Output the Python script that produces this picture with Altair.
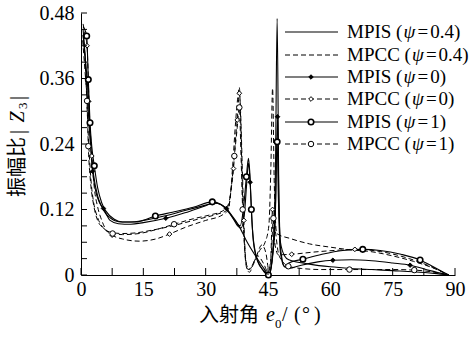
import altair as alt
import pandas as pd

# ---------------- data ----------------
A_x = [0.5,1,1.5,2,2.5,3,4,5,6,7,8,10,12,15,20,25,30,32,34,36,38,40,42,44,45.3,46.3,46.8,47.2,47.6,48,49,50,55,60,65,70,75,80,85,88.5]
A_y = [0.45,0.40,0.33,0.27,0.22,0.185,0.145,0.125,0.112,0.105,0.100,0.097,0.097,0.100,0.108,0.118,0.128,0.132,0.128,0.112,0.090,0.060,0.035,0.012,0.0,0.06,0.2,0.47,0.16,0.06,0.035,0.028,0.02,0.015,0.012,0.01,0.008,0.006,0.003,0.0]

B_x = [0.5,1,1.5,2,2.5,3,4,5,6,8,10,13,17,22,28,33,35,35.8,36.5,37.2,37.8,38.1,38.4,38.8,39.3,39.8,40.5,41.5,43,44.3,45.2,45.7,46.1,46.5,47.1,50.3,55,60,65,69.6,75,80,85,88.5]
B_y = [0.44,0.39,0.30,0.22,0.165,0.135,0.105,0.09,0.082,0.077,0.076,0.077,0.082,0.09,0.102,0.112,0.118,0.135,0.2,0.28,0.33,0.344,0.29,0.17,0.06,0.015,0.005,0.02,0.045,0.06,0.09,0.2,0.342,0.17,0.076,0.067,0.057,0.051,0.046,0.043,0.035,0.025,0.012,0.0]

C_x = [0.5,1,1.5,1.85,2.3,2.8,3.5,4.5,5.4,7,9,12,15,20.4,25,30,32,35,36.5,37.5,38.5,39.3,39.8,40.3,40.7,41.2,42,43.5,45.2,46.2,46.8,47.3,47.6,48,49,50,53,57,60.6,65,70,75,79.2,84,88.5]
C_y = [0.44,0.40,0.355,0.318,0.24,0.19,0.155,0.132,0.122,0.1,0.094,0.093,0.096,0.104,0.114,0.127,0.132,0.122,0.105,0.092,0.086,0.11,0.16,0.205,0.17,0.09,0.04,0.012,0.0,0.04,0.12,0.29,0.14,0.05,0.015,0.012,0.018,0.024,0.027,0.028,0.026,0.022,0.018,0.008,0.0]
C_marks = [1.85,2.8,5.4,20.4,35,40.7,47.3,60.6,79.2]

D_x = [0.5,1,1.45,2,2.6,3.2,4,5,6,7.5,10,14,18,21.3,25,30,34,35.5,36,36.7,37.3,37.6,38.1,38.4,38.8,39.2,39.6,40.2,41,42.5,44,45,45.6,46.1,46.6,47.5,50.7,56,61,65.9,72,79,84,88.5]
D_y = [0.46,0.44,0.42,0.3,0.218,0.16,0.125,0.1,0.083,0.073,0.066,0.062,0.066,0.075,0.087,0.1,0.11,0.12,0.15,0.195,0.26,0.284,0.333,0.3,0.2,0.1,0.03,0.01,0.015,0.035,0.02,0.005,0.02,0.12,0.06,0.037,0.038,0.042,0.045,0.047,0.043,0.03,0.016,0.0]
D_marks = [1.45,2.6,7.5,21.3,36.7,37.6,38.1,39.2,46.1,50.7,65.9]

E_x = [0.5,1.0,1.37,1.76,2.17,2.6,3.2,4,5,6,8,10,13,17.9,22,27,31.6,33.5,35.5,37,38.3,39.2,39.8,40.3,40.6,41,41.5,42.5,44,45.1,46,46.7,47.2,47.5,48,49,50,53.4,58,63,67.8,72,77,81.6,85,88.5]
E_y = [0.455,0.448,0.438,0.358,0.279,0.235,0.2,0.16,0.132,0.117,0.102,0.097,0.097,0.108,0.115,0.124,0.134,0.13,0.115,0.1,0.09,0.13,0.18,0.214,0.19,0.12,0.06,0.025,0.008,0.0,0.03,0.1,0.244,0.14,0.04,0.015,0.022,0.029,0.038,0.045,0.047,0.045,0.038,0.0275,0.014,0.0]
E_marks = [1.37,1.76,2.17,3.2,17.9,31.6,39.8,41,45.1,47.2,53.4,67.8,81.6]

F_x = [0.4,1,1.45,1.76,2.3,3,4,5.5,7.6,10,14,18,22.4,27,31,34,35.5,36.3,36.9,37.6,38.1,38.5,38.9,39.3,39.8,40.5,42,43.5,44.5,45.2,45.8,46.3,46.8,47.5,48.5,49.9,53,58,64.6,70,75,80.2,85,88.5]
F_y = [0.43,0.37,0.319,0.236,0.17,0.13,0.1,0.085,0.076,0.074,0.076,0.083,0.093,0.103,0.11,0.117,0.13,0.17,0.218,0.27,0.307,0.22,0.12,0.06,0.02,0.01,0.03,0.055,0.04,0.01,0.04,0.104,0.079,0.04,0.025,0.016,0.012,0.01,0.01,0.01,0.01,0.009,0.005,0.0]
F_marks = [1.45,1.76,7.6,22.4,36.9,38.1,38.9,46.3,49.9,64.6,80.2]

series_keys = ["A", "B", "C", "D", "E", "F"]
series_method = ["MPIS", "MPCC", "MPIS", "MPCC", "MPIS", "MPCC"]
series_psi = ["0.4", "0.4", "0", "0", "1", "1"]
series_dash = ["solid", "dashed", "solid", "dashed", "solid", "dashed"]

x_labels = [0, 15, 30, 45, 60, 75, 90]
x_ticks = [0, 7.5, 15, 22.5, 30, 37.5, 45, 52.5, 60, 67.5, 75, 82.5, 90]
y_labels = [0, 0.12, 0.24, 0.36, 0.48]
y_ticks = [round(0.03 * i, 2) for i in range(17)]

# ---------------- build tables ----------------
data_xy = {"A": (A_x, A_y, []), "B": (B_x, B_y, []), "C": (C_x, C_y, C_marks),
           "D": (D_x, D_y, D_marks), "E": (E_x, E_y, E_marks), "F": (F_x, F_y, F_marks)}
rows = []
for k, dash in zip(series_keys, series_dash):
    xs, ys, mk = data_xy[k]
    for i, (xv, yv) in enumerate(zip(xs, ys)):
        rows.append({"series": k, "e": xv, "z": yv, "order": i,
                     "marker": xv in mk, "dash": dash})
df = pd.DataFrame(rows)

X = alt.X("e:Q", scale=alt.Scale(domain=[0, 90], nice=False, zero=False),
          axis=alt.Axis(values=x_labels, title=None, ticks=False, grid=False,
                        labelFont="Liberation Serif", labelFontSize=20, labelColor="black",
                        labelPadding=4, domainColor="black", domainWidth=1, labelFlush=False))
Y = alt.Y("z:Q", scale=alt.Scale(domain=[0, 0.48], nice=False, zero=False),
          axis=alt.Axis(values=y_labels, title=None, ticks=False, grid=False,
                        labelExpr="datum.value == 0 ? '0' : format(datum.value, '.2f')",
                        labelFont="Liberation Serif", labelFontSize=20, labelColor="black",
                        labelPadding=7, domainColor="black", domainWidth=1, labelFlush=False))

base = alt.Chart(df)
lines_solid = base.transform_filter(alt.datum.dash == "solid").mark_line(
    interpolate="monotone", color="black", strokeWidth=1.1).encode(
    x=X, y=Y, detail="series:N", order="order:Q")
lines_dashed = base.transform_filter(alt.datum.dash == "dashed").mark_line(
    interpolate="monotone", color="black", strokeWidth=1.0, strokeDash=[5, 3]).encode(
    x=X, y=Y, detail="series:N", order="order:Q")

marker_style = {
    "C": dict(shape="diamond", filled=True, fill="black", stroke="black", size=20, strokeWidth=1),
    "D": dict(shape="diamond", filled=True, fill="white", stroke="black", size=22, strokeWidth=1),
    "E": dict(shape="circle", filled=True, fill="white", stroke="black", size=30, strokeWidth=1.6),
    "F": dict(shape="circle", filled=True, fill="white", stroke="black", size=30, strokeWidth=1.0),
}
marker_layers = []
for k in ["C", "D", "E", "F"]:
    marker_layers.append(
        base.transform_filter((alt.datum.series == k) & alt.datum.marker)
        .mark_point(opacity=1, **marker_style[k]).encode(x=X, y=Y))

# inward ticks
xt = alt.Chart(pd.DataFrame({"e": x_ticks})).mark_rule(color="black", strokeWidth=1).encode(
    x=alt.X("e:Q"), y=alt.value(262), y2=alt.value(255))
yt = alt.Chart(pd.DataFrame({"z": y_ticks})).mark_rule(color="black", strokeWidth=1).encode(
    y=alt.Y("z:Q"), x=alt.value(0), x2=alt.value(6))

# ---------------- legend (manual) ----------------
TW = {'M': .889, 'P': .556, 'I': .333, 'S': .556, 'C': .667, ' ': .25, '(': .333,
      ')': .333, '=': .564, '0': .5, '.': .25, '4': .5, '1': .5}
def tw(s, size):
    return sum(TW[c] for c in s) * size

row_c = [19, 42, 64, 86, 109, 131]
LFS = 19
leg_lines = pd.DataFrame({"x1": [204] * 6, "x2": [257] * 6, "y": row_c, "dash": series_dash})
leg_solid = alt.Chart(leg_lines).transform_filter(alt.datum.dash == "solid").mark_rule(
    color="black", strokeWidth=1.1).encode(
    x=alt.X("x1:Q", scale=None, axis=None), x2="x2:Q", y=alt.Y("y:Q", scale=None, axis=None))
leg_dashed = alt.Chart(leg_lines).transform_filter(alt.datum.dash == "dashed").mark_rule(
    color="black", strokeWidth=1.0, strokeDash=[5, 3]).encode(
    x=alt.X("x1:Q", scale=None, axis=None), x2="x2:Q", y=alt.Y("y:Q", scale=None, axis=None))
leg_marks = []
for i, k in enumerate(series_keys):
    if k in marker_style:
        leg_marks.append(alt.Chart(pd.DataFrame({"x": [230], "y": [row_c[i]]})).mark_point(
            opacity=1, **marker_style[k]).encode(
            x=alt.X("x:Q", scale=None, axis=None), y=alt.Y("y:Q", scale=None, axis=None)))

reg_rows, ita_rows, cjk_rows = [], [], []
for i in range(6):
    pre = series_method[i] + " ("
    bl = row_c[i] + 6
    x0 = 266
    reg_rows.append({"t": pre, "x": x0, "y": bl, "a": 0, "s": LFS})
    px = x0 + tw(pre, LFS) + 1
    ita_rows.append({"t": "ψ", "x": px, "y": bl, "a": 0, "s": LFS})
    ex = px + 14
    reg_rows.append({"t": "=", "x": ex, "y": bl, "a": 0, "s": LFS})
    vx = ex + tw("=", LFS) + 2
    reg_rows.append({"t": series_psi[i] + ")", "x": vx, "y": bl, "a": 0, "s": LFS})

# axis titles (pieces)
cjk_rows.append({"t": "入射角", "x": 118, "y": 309, "a": 0, "s": 20})
ita_rows.append({"t": "e", "x": 185, "y": 308, "a": 0, "s": 20})
reg_rows.append({"t": "0", "x": 194, "y": 315, "a": 0, "s": 13})
reg_rows.append({"t": "/", "x": 201, "y": 308, "a": 0, "s": 20})
reg_rows.append({"t": "(", "x": 213, "y": 308, "a": 0, "s": 20})
reg_rows.append({"t": "°", "x": 221, "y": 308, "a": 0, "s": 20})
reg_rows.append({"t": ")", "x": 233, "y": 308, "a": 0, "s": 20})

cjk_rows.append({"t": "振幅比", "x": -57, "y": 184, "a": 270, "s": 20})
reg_rows.append({"t": "|", "x": -57, "y": 121, "a": 270, "s": 20})
ita_rows.append({"t": "Z", "x": -57, "y": 109.5, "a": 270, "s": 20})
reg_rows.append({"t": "3", "x": -54, "y": 96, "a": 270, "s": 13})
reg_rows.append({"t": "|", "x": -57, "y": 87, "a": 270, "s": 20})

def text_layer(rows_, **kw):
    return alt.Chart(pd.DataFrame(rows_)).mark_text(
        align="left", baseline="alphabetic", color="black", **kw).encode(
        x=alt.X("x:Q", scale=None, axis=None), y=alt.Y("y:Q", scale=None, axis=None),
        text="t:N", angle=alt.Angle("a:Q", scale=None),
        size=alt.Size("s:Q", scale=None, legend=None))

txt_reg = text_layer(reg_rows, font="Liberation Serif")
txt_ita = text_layer(ita_rows, font="Liberation Serif", fontStyle="italic")
txt_cjk = text_layer(cjk_rows, font="Noto Sans CJK SC")

chart = alt.layer(
    lines_solid, lines_dashed, *marker_layers, xt, yt,
    leg_solid, leg_dashed, *leg_marks, txt_reg, txt_ita, txt_cjk
).properties(
    width=374, height=262,
    autosize=alt.AutoSizeParams(type="none"),
    padding={"left": 81, "top": 13, "right": 19, "bottom": 62},
    background="white",
).configure_view(stroke=None)

chart.save("out.html", embed_options={"renderer": "svg", "actions": False})
